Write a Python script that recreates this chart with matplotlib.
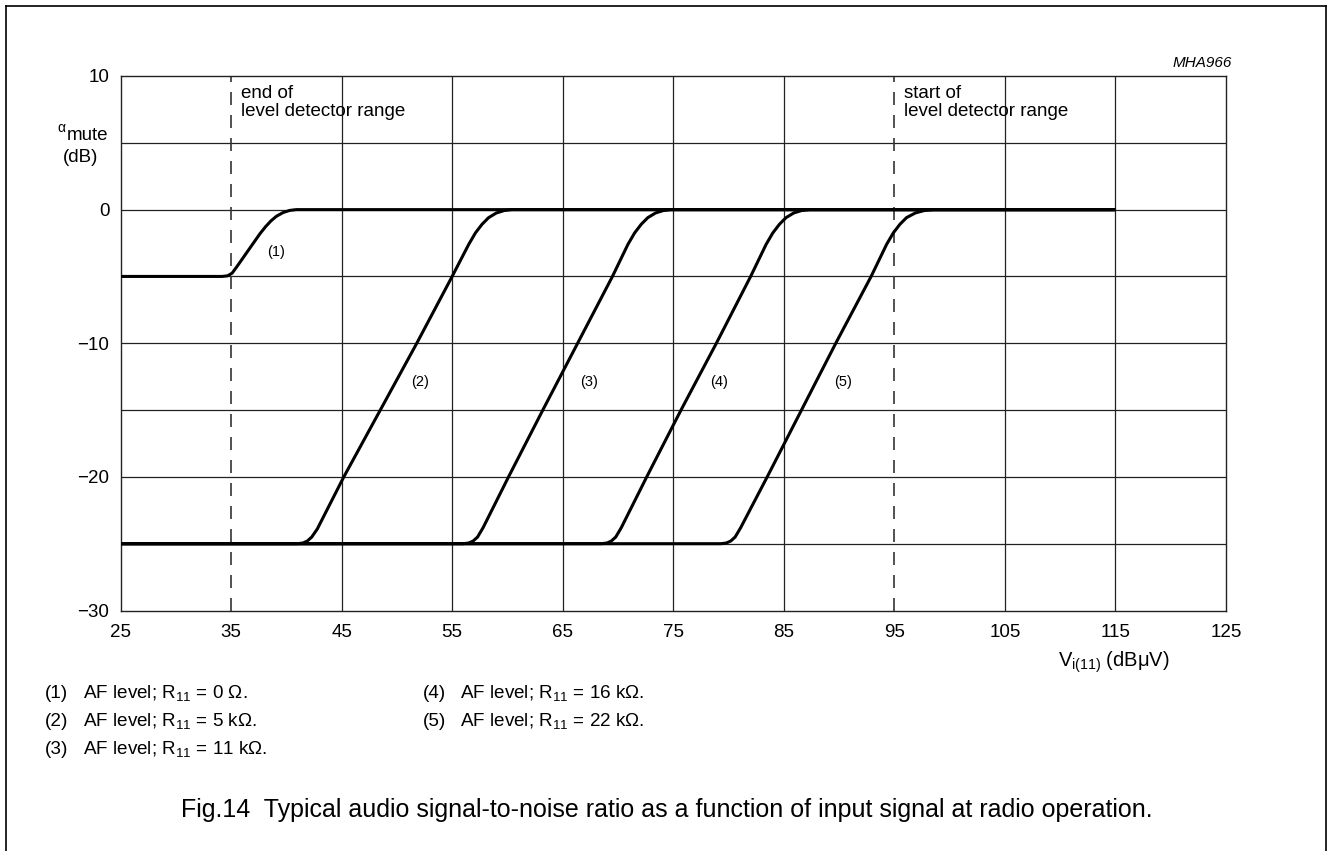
import matplotlib
matplotlib.use("Agg")
import matplotlib.pyplot as plt
from matplotlib.lines import Line2D

plt.rcParams['font.family'] = ['Liberation Sans', 'DejaVu Sans']
plt.rcParams['mathtext.fontset'] = 'custom'
plt.rcParams['mathtext.rm'] = 'Liberation Sans'
plt.rcParams['mathtext.it'] = 'Liberation Sans:italic'

W, H = 1329, 851

# curves: V_i(11) (dBuV) vs alpha_mute (dB)
x1 = [25, 34.2, 34.7, 35.1, 35.5, 37.6, 38.1, 38.6, 39.1, 39.7, 40.3, 40.9, 115]
y1 = [-5, -5, -4.95, -4.75, -4.3, -1.82, -1.3, -0.85, -0.5, -0.22, -0.06, 0, 0]

x2 = [25, 41.0, 41.5, 41.9, 42.3, 42.8, 45.2, 48.5, 51.8, 55.0, 56.5, 57.1, 57.7, 58.3, 59.0, 59.7, 60.4, 115]
y2 = [-25, -25, -24.95, -24.8, -24.5, -23.9, -20, -15, -10, -5, -2.6, -1.75, -1.1, -0.6, -0.25, -0.07, 0, 0]

x3 = [25, 56.0, 56.5, 56.9, 57.3, 57.8, 60.1, 63.2, 66.35, 69.5, 70.9, 71.5, 72.1, 72.7, 73.4, 74.1, 74.8, 115]
y3 = [-25, -25, -24.95, -24.8, -24.5, -23.8, -20, -15, -10, -5, -2.6, -1.75, -1.1, -0.6, -0.25, -0.07, 0, 0]

x4 = [25, 68.5, 69.0, 69.4, 69.8, 70.3, 72.6, 75.7, 78.9, 82.0, 83.4, 84.0, 84.6, 85.2, 85.9, 86.6, 87.3, 115]
y4 = [-25, -25, -24.95, -24.8, -24.5, -23.8, -20, -15, -10, -5, -2.6, -1.75, -1.1, -0.6, -0.25, -0.07, 0, 0]

x5 = [25, 79.3, 79.8, 80.2, 80.6, 81.1, 83.5, 86.6, 89.7, 92.9, 94.3, 94.9, 95.5, 96.1, 96.9, 97.7, 98.5, 115]
y5 = [-25, -25, -24.95, -24.8, -24.5, -23.8, -20, -15, -10, -5, -2.6, -1.75, -1.1, -0.6, -0.25, -0.07, 0, 0]

curve_labels = ['(1)', '(2)', '(3)', '(4)', '(5)']
label_x = [39.1, 52.1, 67.4, 79.1, 90.35]
label_y = [-3.2, -12.9, -12.9, -12.9, -12.9]

detector_x = [35, 95]
detector_text = ['end of\nlevel detector range', 'start of\nlevel detector range']

xticks = [25, 35, 45, 55, 65, 75, 85, 95, 105, 115, 125]
yticks = [10, 0, -10, -20, -30]
ygrid = [5, 0, -5, -10, -15, -20, -25]

legend_num = ['(1)', '(2)', '(3)', '(4)', '(5)']
legend_txt = [r'AF level; R$_{11}$ = 0 Ω.', r'AF level; R$_{11}$ = 5 kΩ.',
              r'AF level; R$_{11}$ = 11 kΩ.', r'AF level; R$_{11}$ = 16 kΩ.',
              r'AF level; R$_{11}$ = 22 kΩ.']

caption = 'Fig.14  Typical audio signal-to-noise ratio as a function of input signal at radio operation.'


def px(x, y):
    return x / W, 1 - y / H


fig = plt.figure(figsize=(W / 100, H / 100), dpi=100)
ax = fig.add_axes([120.5 / W, 1 - 610.5 / H, 1105.5 / W, 534.5 / H])
ax.set_xlim(25, 125)
ax.set_ylim(-30, 10)

for g in xticks[1:-1]:
    if g in detector_x:
        continue
    ax.axvline(g, color='#222222', lw=0.9, zorder=1)
for g in ygrid:
    ax.axhline(g, color='#222222', lw=0.9, zorder=1)
for d in detector_x:
    ax.axvline(d, color='#333333', lw=1.2, ls=(0, (7.8, 6)), zorder=1)

for xs, ys in [(x1, y1), (x2, y2), (x3, y3), (x4, y4), (x5, y5)]:
    ax.plot(xs, ys, color='black', lw=2.2, solid_joinstyle='round',
            solid_capstyle='butt', zorder=3)

for t, lx, ly in zip(curve_labels, label_x, label_y):
    ax.text(lx, ly, t, fontsize=10.5, ha='center', va='center')

for d, t in zip(detector_x, detector_text):
    ax.text(d + 0.9, 9.3, t, fontsize=13.5, ha='left', va='top', linespacing=1.05)

ax.set_xticks(xticks)
ax.set_yticks(yticks)
ax.set_yticklabels([str(v).replace('-', '\u2212') for v in yticks])
ax.tick_params(length=0, labelsize=13.5)
ax.tick_params(axis='x', pad=10)
ax.tick_params(axis='y', pad=8)
for s in ax.spines.values():
    s.set_linewidth(1.0)
    s.set_color('#222222')

ax.text(1.0055, 1.025, 'MHA966', transform=ax.transAxes, fontsize=11,
        style='italic', ha='right', va='center')

# axis titles
fig.text(*px(61, 128), 'α', fontsize=10, ha='center', va='center')
fig.text(*px(88, 136), 'mute', fontsize=13.5, ha='center', va='center')
fig.text(*px(81, 157), '(dB)', fontsize=13.5, ha='center', va='center')
fig.text(*px(1114, 662), r'$\mathrm{V}_{\mathrm{i(11)}}$ (dBμV)', fontsize=14.5,
         ha='center', va='center')

# legend lines below the chart
rows = [693, 721, 749]
for i, (n, t) in enumerate(zip(legend_num, legend_txt)):
    col = i // 3
    row = i % 3
    nx = 45 if col == 0 else 423
    tx = 83 if col == 0 else 460
    fig.text(*px(nx, rows[row]), n, fontsize=13.6, ha='left', va='center')
    fig.text(*px(tx, rows[row]), t, fontsize=13.6, ha='left', va='center')

fig.text(*px(667, 810), caption, fontsize=18, ha='center', va='center')

# page frame
fig.add_artist(Line2D([6 / W, 6 / W], [0, 1 - 6 / H], color='black', lw=1.2))
fig.add_artist(Line2D([6 / W, 1325.5 / W], [1 - 6 / H, 1 - 6 / H], color='black', lw=1.2))
fig.add_artist(Line2D([1325.5 / W, 1325.5 / W], [0, 1 - 6 / H], color='black', lw=1.2))

fig.savefig('out.png', dpi=100)
